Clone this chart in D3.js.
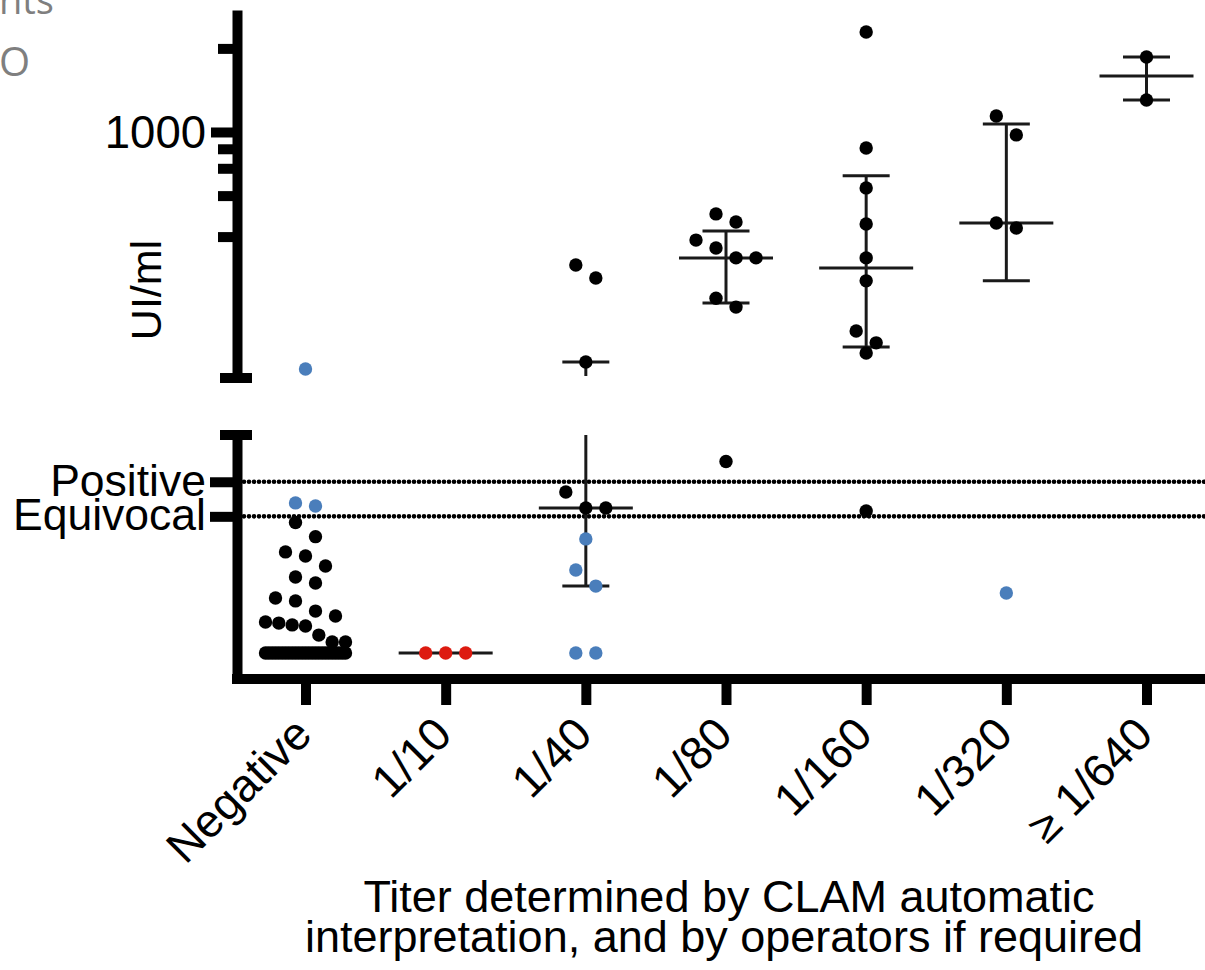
<!DOCTYPE html>
<html>
<head>
<meta charset="utf-8">
<script src="https://cdn.jsdelivr.net/npm/d3@7"></script>
<style>
  body { margin: 0; background: #fff; }
  text { font-family: "Liberation Sans", Arial, sans-serif; fill: #000; }
</style>
</head>
<body>
<div id="chart"></div>
<script>
// titer groups on the x axis
var categories = ["Negative", "1/10", "1/40", "1/80", "1/160", "1/320", "\u2265 1/640"];

// UI/ml values, one array per group and colour
var negativeBlack = [77, 70, 62.5, 60.5, 55.6, 50.2, 47.2, 39.8, 38.4, 33.4, 31, 28, 27.5, 26.6, 26.1, 21.6, 18.2, 18.2,
  12.8, 12.8, 12.8, 12.8, 12.8, 12.8, 12.8, 12.8, 12.8, 12.8, 12.8, 12.8, 12.8,
  12.8, 12.8, 12.8, 12.8, 12.8, 12.8, 12.8, 12.8, 12.8, 12.8, 12.8, 12.8];
var negativeBlue = [140, 85.1, 86.6];
var titer10Red = [12.8, 12.8, 12.8];
var titer40Black = [332, 298, 148.5, 92, 84.1, 84.1];
var titer40Blue = [68.9, 53.6, 45.7, 12.8, 12.8];
var titer80Black = [507, 474, 408, 382, 352, 352, 252, 234, 107];
var titer160Black = [2292, 876, 629, 466, 352, 291, 192, 174, 160, 82.6];
var titer320Black = [1142, 976, 470, 451];
var titer320Blue = [42.3];
var titer640Black = [1863, 1304];

// mean and SD bars per group (null = not drawn)
var meanValues = [null, 12.8, 84.1, 352, 324, 470, 1591];
var sdLow = [null, null, 45.7, 242, 168, 291, 1304];
var sdHigh = [null, null, 148.5, 440, 695, 1069, 1863];

// cut-offs on the lower segment
var cutoffValues = [97, 80];
var cutoffLabels = ["Positive", "Equivocal"];

// ticks on the upper (log) segment
var topTicks = [2000, 1000, 870, 740, 590, 420];

var W = 1205, H = 970;
var BLUE = "#4a7ebb", RED = "#dd1a10", BLACK = "#000";
var FONT = "'Liberation Sans', Arial, sans-serif";

var svg = d3.select("#chart").append("svg")
  .attr("width", W).attr("height", H);

var x = d3.scalePoint().domain(categories).range([305.5, 1146.5]);
var yTop = d3.scaleLog().domain([130, 2750]).range([378, 10]);
var yBot = d3.scaleLinear().domain([0, 120]).range([679, 435]);
var BREAK = 125;
function yOf(v) { return v >= BREAK ? yTop(v) : yBot(v); }

// stray text from the slide behind
svg.append("text").attr("x", -1).attr("y", 14)
  .style("font-family", "'Open Sans', sans-serif").style("font-size", "38px").style("fill", "#7f7f7f").text("nts");
svg.append("text").attr("x", -1).attr("y", 76)
  .style("font-family", "'Open Sans', sans-serif").style("font-size", "40px").style("fill", "#7f7f7f").text("O");

// cut-off dotted lines
svg.selectAll(".cutoff").data(cutoffValues).enter().append("line")
  .attr("class", "cutoff")
  .attr("x1", 244).attr("x2", W + 5)
  .attr("y1", function (d) { return yBot(d); })
  .attr("y2", function (d) { return yBot(d); })
  .attr("stroke", "#000").attr("stroke-width", 4.6)
  .attr("stroke-linecap", "round").attr("stroke-dasharray", "0 5");

// upper y axis
var axTop = svg.append("g").attr("transform", "translate(237,0)")
  .call(d3.axisLeft(yTop).tickValues(topTicks).tickSizeOuter(0)
    .tickFormat(function (d) { return d === 1000 ? "1000" : ""; }));
axTop.select(".domain").attr("stroke-width", 10);
axTop.selectAll(".tick line").attr("stroke-width", 10)
  .attr("x2", function (d) { return d === 1000 ? -26 : -19; });
axTop.selectAll(".tick text").attr("x", -31).attr("dy", "0.35em")
  .style("font-size", "45.5px").style("font-family", FONT);
svg.append("line").attr("x1", 220).attr("x2", 252).attr("y1", 378).attr("y2", 378)
  .attr("stroke", "#000").attr("stroke-width", 10);

// lower y axis
var axBot = svg.append("g").attr("transform", "translate(237,0)")
  .call(d3.axisLeft(yBot).tickValues(cutoffValues).tickSizeOuter(0)
    .tickFormat(function (d, i) { return cutoffLabels[i]; }));
axBot.select(".domain").attr("stroke-width", 10);
axBot.selectAll(".tick line").attr("stroke-width", 10).attr("x2", -27);
axBot.selectAll(".tick text").attr("x", -31).attr("dy", "0.3em")
  .style("font-size", "44.5px").style("font-family", FONT);
svg.append("line").attr("x1", 220).attr("x2", 252).attr("y1", 435).attr("y2", 435)
  .attr("stroke", "#000").attr("stroke-width", 10);

// x axis
var axX = svg.append("g").attr("transform", "translate(0,679)")
  .call(d3.axisBottom(x).tickSize(26).tickSizeOuter(0));
axX.select(".domain").remove();
axX.selectAll(".tick line").attr("stroke-width", 10).attr("y1", 4);
axX.selectAll(".tick text")
  .attr("x", 0).attr("y", 0).attr("dy", 0)
  .attr("transform", "translate(8,58) rotate(-45)")
  .style("text-anchor", "end")
  .style("font-size", "46px").style("font-family", FONT);
svg.append("line").attr("x1", 232).attr("x2", W + 5).attr("y1", 679).attr("y2", 679)
  .attr("stroke", "#000").attr("stroke-width", 10);

// axis titles
svg.append("text")
  .attr("transform", "translate(161,290) rotate(-90)")
  .attr("text-anchor", "middle")
  .style("font-size", "43px").text("UI/ml");
var title = svg.append("text").attr("text-anchor", "middle").style("font-size", "45px");
title.append("tspan").attr("x", 729).attr("y", 912).text("Titer determined by CLAM automatic");
title.append("tspan").attr("x", 724).attr("y", 952).text("interpretation, and by operators if required");

// mean and SD bars
var bars = svg.append("g").attr("stroke", "#1a1a1a").attr("stroke-width", 3);
categories.forEach(function (c, i) {
  var cx = x(c);
  if (sdLow[i] != null) {
    var lo = sdLow[i], hi = sdHigh[i];
    if ((lo >= BREAK) === (hi >= BREAK)) {
      bars.append("line").attr("x1", cx).attr("x2", cx).attr("y1", yOf(lo)).attr("y2", yOf(hi));
    } else {
      bars.append("line").attr("x1", cx).attr("x2", cx).attr("y1", yOf(lo)).attr("y2", yBot.range()[1]);
      bars.append("line").attr("x1", cx).attr("x2", cx).attr("y1", yTop.range()[0] - 2).attr("y2", yOf(hi));
    }
    [lo, hi].forEach(function (v) {
      bars.append("line").attr("x1", cx - 23.5).attr("x2", cx + 23.5).attr("y1", yOf(v)).attr("y2", yOf(v));
    });
  }
  if (meanValues[i] != null) {
    var ym = yOf(meanValues[i]);
    bars.append("line").attr("x1", cx - 47).attr("x2", cx + 47).attr("y1", ym).attr("y2", ym);
  }
});

// simple column scatter: points close in y are spread sideways
function swarm(values, cx) {
  var pts = values.map(function (v) { return { v: v, y: yOf(v) }; })
    .sort(function (a, b) { return a.y - b.y; });
  var bins = [], cur = null;
  pts.forEach(function (p) {
    if (!cur || p.y - cur[0].y > 20) { cur = [p]; bins.push(cur); }
    else cur.push(p);
  });
  bins.forEach(function (b) {
    var n = b.length;
    var step = n > 1 ? Math.min(20, 80 / (n - 1)) : 0;
    b.forEach(function (p, i) { p.x = cx + (i - (n - 1) / 2) * step; });
  });
  return pts;
}

var series = [
  { cat: "Negative", values: negativeBlack, color: BLACK },
  { cat: "Negative", values: negativeBlue, color: BLUE },
  { cat: "1/10", values: titer10Red, color: RED },
  { cat: "1/40", values: titer40Black, color: BLACK },
  { cat: "1/40", values: titer40Blue, color: BLUE },
  { cat: "1/80", values: titer80Black, color: BLACK },
  { cat: "1/160", values: titer160Black, color: BLACK },
  { cat: "1/320", values: titer320Black, color: BLACK },
  { cat: "1/320", values: titer320Blue, color: BLUE },
  { cat: "\u2265 1/640", values: titer640Black, color: BLACK }
];

series.forEach(function (s) {
  svg.append("g").selectAll("circle")
    .data(swarm(s.values, x(s.cat)))
    .enter().append("circle")
    .attr("cx", function (d) { return d.x; })
    .attr("cy", function (d) { return d.y; })
    .attr("r", 6.7)
    .attr("fill", s.color);
});
</script>
</body>
</html>
